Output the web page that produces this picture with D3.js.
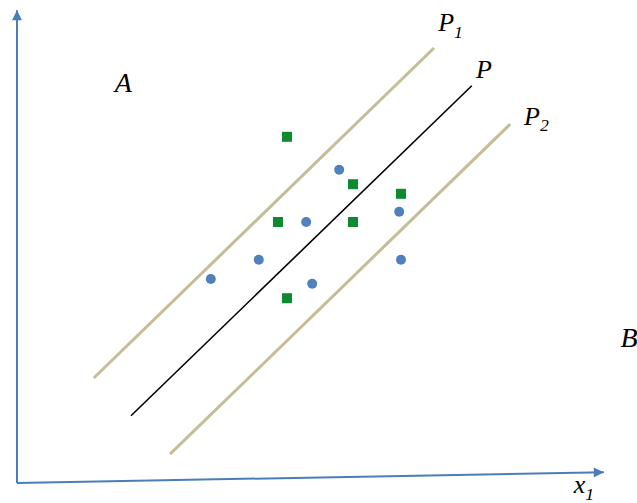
<!DOCTYPE html>
<html>
<head>
<meta charset="utf-8">
<script src="https://cdn.jsdelivr.net/npm/d3@7"></script>
<style>
  html, body { margin: 0; padding: 0; background: #fff; }
  svg text { font-family: "Liberation Serif", "Times New Roman", serif; font-style: italic; fill: #000; }
</style>
</head>
<body>
<script>
// Feature space: two classes separated by line P, with margin lines P1 and P2.
const squares = [
  [45.0, 57.7], [56.0, 49.8], [64.0, 48.2], [43.5, 43.5], [56.0, 43.5], [45.0, 30.8]
];
const circles = [
  [53.7, 52.2], [48.2, 43.5], [63.7, 45.2], [40.3, 37.2], [64.0, 37.2], [32.3, 34.0], [49.2, 33.2]
];
// Line segments: [start, end]
const lineP1 = [[12.8, 17.5], [69.5, 72.5]];
const lineP  = [[19.0, 11.2], [75.8, 66.2]];
const lineP2 = [[25.5, 4.8], [82.2, 59.8]];
// Axes: origin and arrow tips
const axisOrigin = [0, 0];
const axisXTip = [97.8, 1.8];
const axisYTip = [0, 78.8];
// Text labels: [main, subscript, x, y, size]
const labels = [
  ["A", "", 16.3, 65.2, 28],
  ["B", "", 100.6, 22.7, 28],
  ["P", "1", 70.2, 75.3, 26],
  ["P", "",  76.5, 67.5, 26],
  ["P", "2", 84.5, 59.7, 26],
  ["x", "1", 92.8, -1.7, 26]
];

const W = 637, H = 503;
const x = d3.scaleLinear().domain([0, 100]).range([17, 617]);
const y = d3.scaleLinear().domain([0, 80]).range([483, 3]);

const svg = d3.select("body").append("svg")
  .attr("width", W).attr("height", H)
  .attr("viewBox", `0 0 ${W} ${H}`);

const axisColor = "#4a7ebb";
const defs = svg.append("defs");
defs.append("marker")
  .attr("id", "arrow")
  .attr("viewBox", "0 0 10 10")
  .attr("refX", 10).attr("refY", 5)
  .attr("markerUnits", "userSpaceOnUse")
  .attr("markerWidth", 11).attr("markerHeight", 10)
  .attr("orient", "auto")
  .append("path")
  .attr("d", "M0,0 L10,5 L0,10 Z")
  .attr("fill", axisColor);

// Axes
svg.append("line")
  .attr("x1", x(axisOrigin[0])).attr("y1", y(axisOrigin[1]))
  .attr("x2", x(axisYTip[0])).attr("y2", y(axisYTip[1]))
  .attr("stroke", axisColor).attr("stroke-width", 2)
  .attr("marker-end", "url(#arrow)");
svg.append("line")
  .attr("x1", x(axisOrigin[0])).attr("y1", y(axisOrigin[1]))
  .attr("x2", x(axisXTip[0])).attr("y2", y(axisXTip[1]))
  .attr("stroke", axisColor).attr("stroke-width", 2)
  .attr("marker-end", "url(#arrow)");

// Separating lines
const drawSeg = (seg, color, width) => svg.append("line")
  .attr("x1", x(seg[0][0])).attr("y1", y(seg[0][1]))
  .attr("x2", x(seg[1][0])).attr("y2", y(seg[1][1]))
  .attr("stroke", color).attr("stroke-width", width);
drawSeg(lineP1, "#c4bd97", 3);
drawSeg(lineP2, "#c4bd97", 3);
drawSeg(lineP, "#000", 1.6);

// Points
const sq = 10;
svg.selectAll("rect.sq").data(squares).join("rect")
  .attr("class", "sq")
  .attr("x", d => x(d[0]) - sq / 2).attr("y", d => y(d[1]) - sq / 2)
  .attr("width", sq).attr("height", sq)
  .attr("fill", "#0f8a2f");
svg.selectAll("circle.pt").data(circles).join("circle")
  .attr("class", "pt")
  .attr("cx", d => x(d[0])).attr("cy", d => y(d[1]))
  .attr("r", 5)
  .attr("fill", "#4f81bd");

// Labels
labels.forEach(([m, s, lx, ly, fs]) => {
  const t = svg.append("text")
    .attr("x", x(lx)).attr("y", y(ly))
    .attr("font-size", fs);
  t.append("tspan").text(m);
  if (s) {
    t.append("tspan").attr("dy", fs * 0.25).attr("font-size", fs * 0.68).text(s);
  }
});
</script>
</body>
</html>
